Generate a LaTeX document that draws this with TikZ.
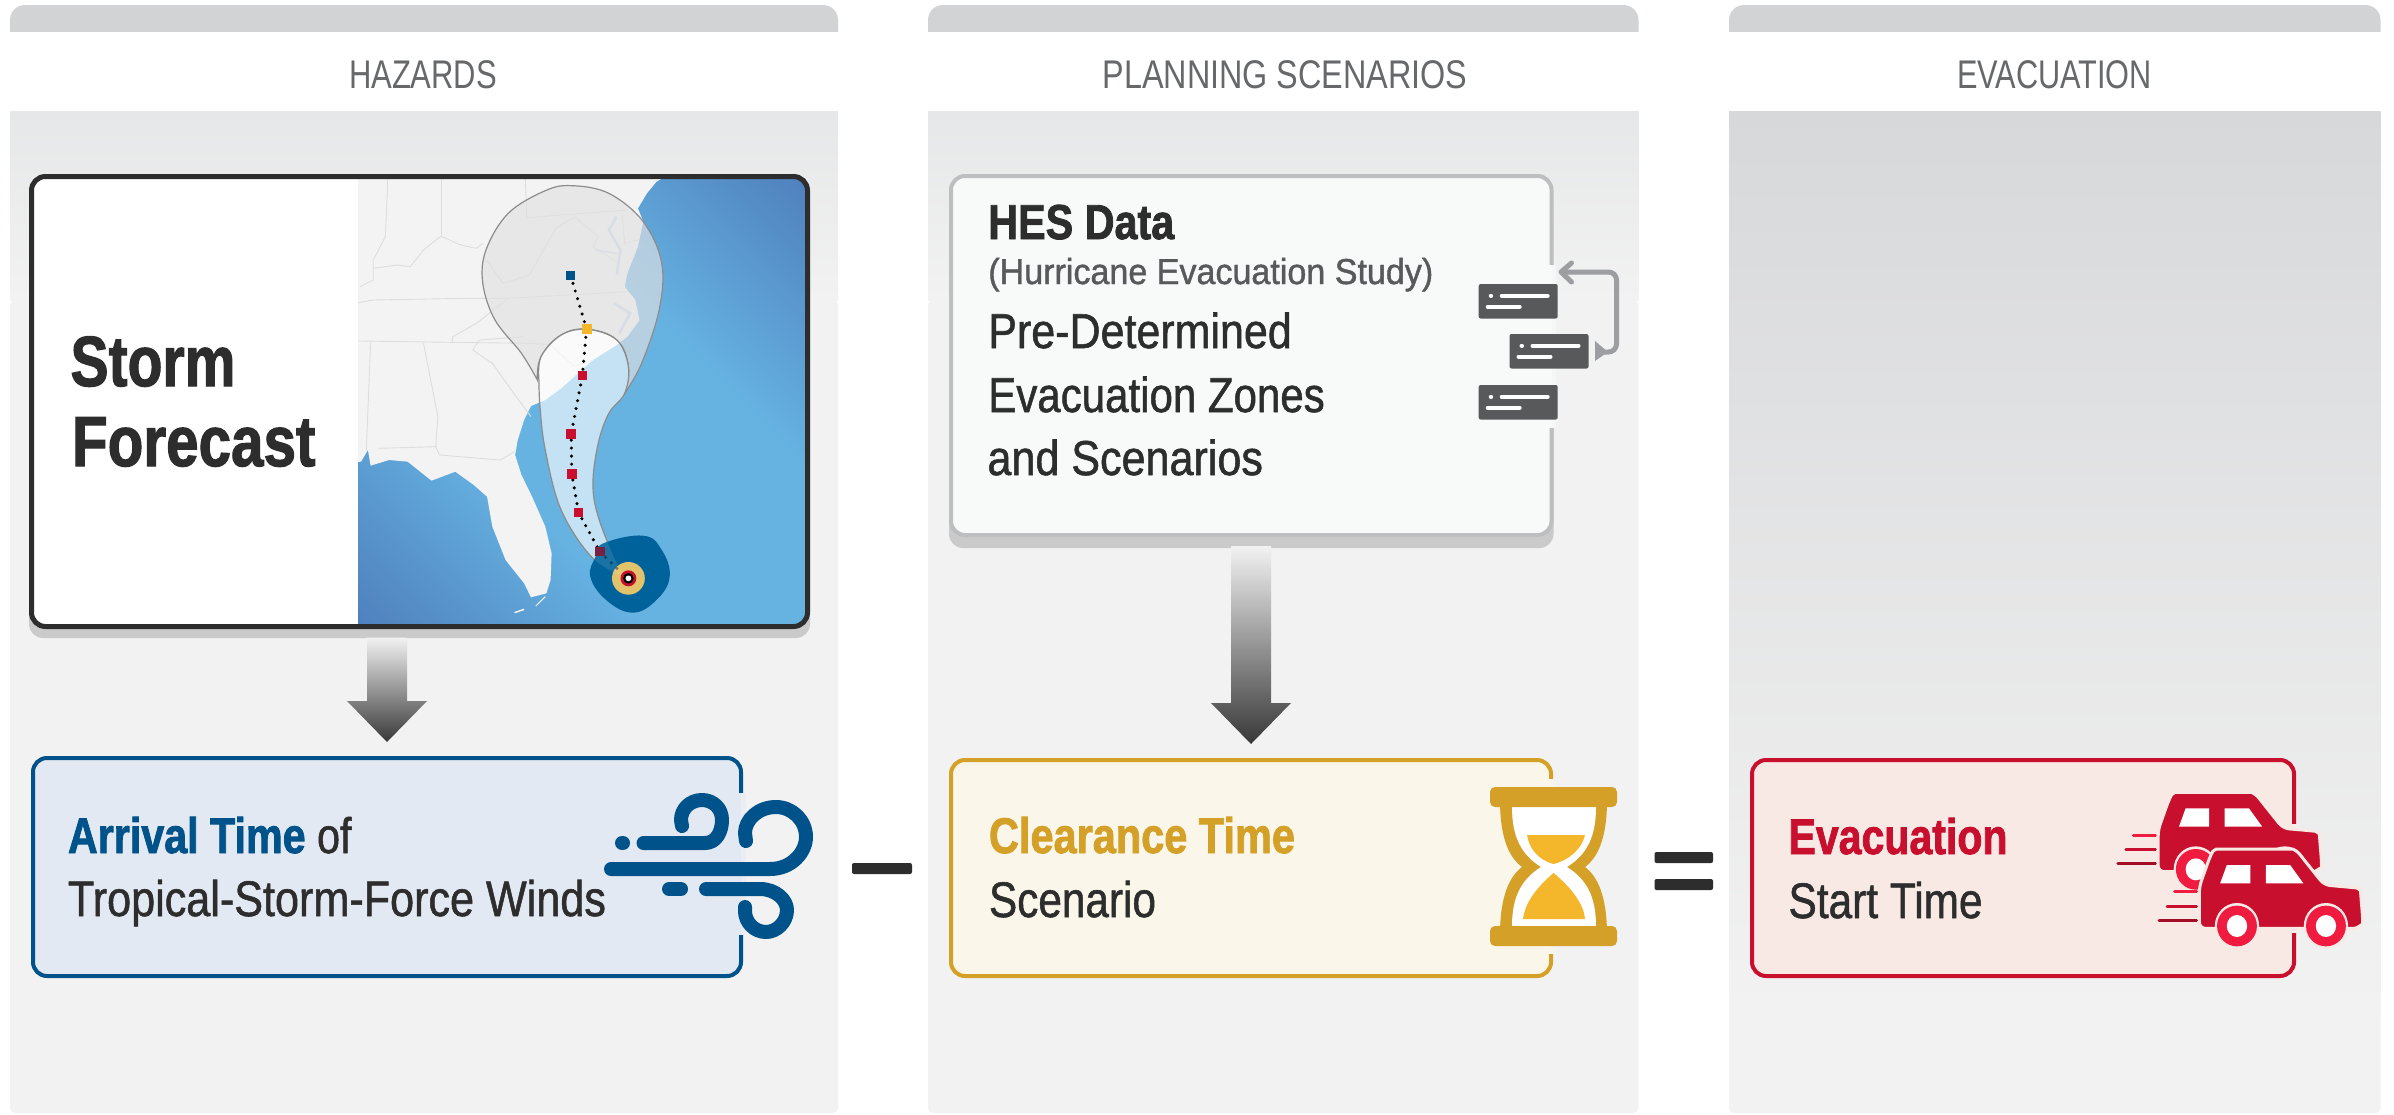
\documentclass[tikz,border=0pt]{standalone}
\usepackage{graphicx}
\usepackage{fontspec}
\setmainfont{Liberation Sans}[UprightFeatures={FakeBold=1.2},BoldFeatures={FakeBold=1.8}]
\newfontfamily\hdrfont{Liberation Sans}
\usetikzlibrary{calc}
\definecolor{ink}{HTML}{2D2D2D}
\definecolor{hdr}{HTML}{66686A}
\definecolor{subink}{HTML}{58595B}
\definecolor{barc}{HTML}{D2D3D5}
\definecolor{pan}{HTML}{F2F2F2}
\definecolor{pantop}{HTML}{E6E7E8}
\definecolor{pandark}{HTML}{D7D8DA}
\definecolor{bluec}{HTML}{00538A}
\definecolor{bluef}{HTML}{E3E9F3}
\definecolor{goldc}{HTML}{D4A027}
\definecolor{goldf}{HTML}{FAF6EA}
\definecolor{sand}{HTML}{F4B62A}
\definecolor{redc}{HTML}{C8102E}
\definecolor{redf}{HTML}{F8E9E5}
\definecolor{wheelc}{HTML}{F01C40}
\definecolor{darkred}{HTML}{A30D26}
\definecolor{hesf}{HTML}{F8F9F9}
\definecolor{hess}{HTML}{BCBEC0}
\definecolor{shad}{HTML}{CACACA}
\definecolor{sea}{HTML}{66B3E2}
\definecolor{seadeep}{HTML}{4F80BD}
\definecolor{land}{HTML}{F3F3F3}
\definecolor{stateline}{HTML}{DDDDDD}
\definecolor{stormb}{HTML}{00629B}
\definecolor{stormy}{HTML}{E2C36B}
\definecolor{conegray}{HTML}{E1E1E3}
\definecolor{coneline}{HTML}{8C8C8C}
\definecolor{bayc}{HTML}{C4D8EA}
\definecolor{arrowg}{HTML}{9C9EA2}
\pgfdeclarehorizontalshading{mapgrad}{100bp}{color(0bp)=(seadeep); color(15bp)=(seadeep); color(38bp)=(sea); color(62bp)=(sea); color(85bp)=(seadeep); color(100bp)=(seadeep)}
\newcommand\fitx[2]{\sbox0{#2}\scalebox{\fpeval{#1/\the\wd0}}[1]{\usebox0}}
\newcommand\fpx[1]{\fontsize{#1}{#1}\selectfont}
\tikzset{
  lab/.style={anchor=base west,inner sep=0pt,outer sep=0pt},
  hd/.style={anchor=base,inner sep=0pt,outer sep=0pt,text=hdr},
  bx/.style={rectangle,rounded corners=14pt,inner sep=0pt,outer sep=0pt,line width=4pt},
  arrowshade/.style={top color=pan,bottom color=black!78},
  wind/.style={draw=bluec,line width=14pt,line cap=round,line join=round},
  card/.style={fill=subink,rounded corners=2pt},
  cardline/.style={draw=white,line width=4pt,line cap=round},
  speed/.style={line width=3pt,line cap=round},
}
% block arrow from the lower edge of #1 to the upper edge of #2
\newcommand\blockarrow[2]{%
  \shade[arrowshade]
    ($(#2.north |- #1.south)+(-20,11)$) -- ($(#2.north |- #1.south)+(20,11)$)
    -- ($(#2.north)+(20,-57)$) -- ($(#2.north)+(40,-57)$)
    -- ($(#2.north)+(0,-16)$)
    -- ($(#2.north)+(-40,-57)$) -- ($(#2.north)+(-20,-57)$) -- cycle;}
\newcommand\cardicon[2]{%
  \begin{scope}[shift={(#1,#2)}]
    \fill[card] (0,0) rectangle (79,34.5);
    \draw[cardline] (12,11.7) -- (12.5,11.7);
    \draw[cardline] (23,11.7) -- (69,11.7);
    \draw[cardline] (9,22.7) -- (41,22.7);
  \end{scope}}
\newcommand\caricon[2]{%
  \begin{scope}[shift={(#1,#2)}]
    \draw[wheelc,speed] (1072,455) -- (1122,455);
    \draw[redc,speed] (1055,498) -- (1122,498);
    \draw[darkred,speed] (1037,541) -- (1122,541);
    \fill[redc,draw=redf,line width=3pt,rounded corners=6pt]
      (1128,440) -- (1128,565) -- (1465,565) .. controls (1485,565) and (1497,550) .. (1497,535)
      -- (1493,470) .. controls (1492,452) and (1485,444) .. (1470,442) -- (1410,435) -- (1362,355)
      .. controls (1350,335) and (1340,327) .. (1325,327) -- (1180,327)
      .. controls (1165,327) and (1158,335) .. (1152,350) -- cycle;
    \fill[white] (1175,430) -- (1190,375) -- (1243,375) -- (1243,430) -- cycle;
    \fill[white] (1278,375) -- (1333,375) -- (1363,430) -- (1278,430) -- cycle;
    \foreach \wx in {1213,1414}{
      \fill[redf] (\wx,558) ellipse [x radius=50,y radius=69];
      \fill[wheelc] (\wx,558) ellipse [x radius=45,y radius=61];
      \fill[white] (\wx,558) ellipse [x radius=23,y radius=33];
    }
  \end{scope}}
\def\outerCone{plot[smooth,tension=.6] coordinates {(1015,690) (985,610) (935,510) (912,400) (918,300) (960,190) (1030,122) (1080,107) (1150,130) (1215,215) (1250,340) (1245,480) (1212,640) (1180,730)}
 -- plot[smooth,tension=.7] coordinates {(1180,730) (1187,650) (1165,570) (1110,538) (1060,555) (1022,620) (1015,690)} -- cycle}
\def\innerCone{plot[smooth,tension=.6] coordinates {(1018,690) (1022,620) (1060,555) (1110,538) (1165,570) (1187,650) (1180,730) (1150,790) (1130,880) (1120,1000) (1130,1100) (1165,1240) (1187,1285)}
 -- plot[smooth,tension=.6] coordinates {(1187,1285) (1120,1225) (1060,1080) (1030,900) (1020,770) (1018,690)} -- cycle}
\def\stormBlob{plot[smooth cycle,tension=.7] coordinates {(1140,1180) (1215,1157) (1250,1200) (1265,1280) (1240,1350) (1195,1388) (1145,1350) (1115,1280) (1125,1220)}}
\begin{document}
\begin{tikzpicture}[x=1pt,y=-1pt]
\useasboundingbox (0,0) rectangle (2394,1114);
\fill[white] (0,0) rectangle (2394,1114);
% header bars
\fill[barc,rounded corners=15pt] (10,5) rectangle (838,50);
\fill[barc,rounded corners=15pt] (928,5) rectangle (1638.5,50);
\fill[barc,rounded corners=15pt] (1729,5) rectangle (2380.5,50);
\fill[white] (0,32) rectangle (2394,60);
% panels
\fill[pan,rounded corners=5pt] (10,300) rectangle (838,1113);
\fill[pan,rounded corners=5pt] (928,300) rectangle (1638.5,1113);
\shade[top color=pantop,bottom color=pan] (10,111) rectangle (838,300);
\shade[top color=pantop,bottom color=pan] (928,111) rectangle (1638.5,300);
\fill[pan,rounded corners=5pt] (1729,1000) rectangle (2380.5,1113);
\shade[top color=pandark,bottom color=pan] (1729,111) rectangle (2380.5,1010);
% headers
\node[hd] (hHaz) at (423,88) {\fitx{148}{\hdrfont\fpx{40}HAZARDS}};
\node[hd] (hPlan) at (1285,88) {\fitx{365}{\hdrfont\fpx{40}PLANNING SCENARIOS}};
\node[hd] (hEvac) at (2054.5,88) {\fitx{195}{\hdrfont\fpx{40}EVACUATION}};
% storm box
\fill[shad,rounded corners=14pt] (29,200) rectangle (810,638);
\node[bx,fill=white,minimum width=776pt,minimum height=450pt] (storm) at (419.5,401.5) {};
\begin{scope}
  \clip[rounded corners=14pt] (storm.north west) rectangle (storm.south east);
  \clip (358,150) rectangle (900,700);
  \begin{scope}[x={(0.5294pt,0pt)},y={(0pt,-0.33333pt)},yshift=-150pt]
    \shade[shading=mapgrad,shading angle=45] (670,70) rectangle (1530,1440);
    \fill[land] (660,70) -- (1268,70) -- (1240,95) -- (1222,130) -- (1205,175) -- (1215,215) -- (1205,290) -- (1185,370) -- (1180,410) -- (1200,450) -- (1208,510) -- (1185,560) -- (1165,585) -- (1150,600) -- (1120,630) -- (1095,665) -- (1060,715) -- (1030,750) -- (1003,768) -- (990,810) -- (978,870) -- (973,915) -- (985,975) -- (1005,1040) -- (1030,1130) -- (1042,1210) -- (1040,1290) -- (1032,1330) -- (1003,1342) -- (990,1300) -- (955,1230) -- (930,1130) -- (920,1040) -- (895,1005) -- (860,965) -- (815,992) -- (770,935) -- (735,930) -- (700,947) -- (695,900) -- (682,935) -- (660,940) -- cycle;
    \draw[land,line width=1.5pt] (972,1388) -- (990,1378);
    \draw[land,line width=1pt] (1012,1368) -- (1030,1340);
    \begin{scope}[stateline,line width=.9pt]
      \draw (733,70) -- (728,260) -- (705,330) -- (705,390) -- (680,410);
      \draw (833,70) -- (833,255);
      \draw (992,70) -- (995,203) -- (1185,180);
      \draw (705,355) -- (750,345) -- (775,350) -- (800,300) -- (833,258) -- (870,285) -- (900,295) -- (912,280);
      \draw (915,320) -- (950,400) -- (1000,375) -- (1030,290) -- (1050,235) -- (1085,200) -- (1130,260) -- (1120,290) -- (1170,340);
      \draw (677,458) -- (705,450) -- (880,445) -- (960,445) -- (1185,425);
      \draw (960,445) -- (900,520) -- (855,560) -- (855,575);
      \draw (677,573) -- (855,577) -- (1000,580);
      \draw (700,578) -- (692,900);
      \draw (800,580) -- (827,800) -- (823,890) -- (830,915) -- (945,930) -- (972,905);
      \draw (715,895) -- (825,890);
      \draw (893,600) -- (930,640) -- (975,740) -- (1003,800);
      \draw (893,600) -- (905,570) -- (990,560);
      \draw (1000,580) -- (1040,585) -- (1085,650) -- (1120,630);
      \draw (1175,195) -- (1180,280) -- (1205,270);
    \end{scope}
    \draw[bayc,line width=2.5pt] (1165,200) -- (1150,240) -- (1172,300) -- (1165,375);
    \draw[bayc,line width=1.2pt] (1125,300) -- (1165,310);
    \draw[bayc,line width=2.5pt] (1160,460) -- (1190,490) -- (1170,550);
    \fill[conegray,fill opacity=.65] \outerCone;
    \draw[coneline,line width=1.2pt] \outerCone;
    \fill[white,fill opacity=.62] \innerCone;
    \draw[coneline,line width=1.2pt] \innerCone;
    \draw[black,line width=3.4pt,line cap=round,dash pattern=on 0pt off 8pt]
      (1078,377) -- (1108,537) -- (1100,677) -- (1079,852) -- (1080,972) -- (1093,1088) -- (1133,1205);
    \fill[stormb] \stormBlob;
    \fill[stormy] (1187,1285) ellipse [x radius=31,y radius=49];
    \begin{scope}
      \clip \stormBlob;
      \fill[white,fill opacity=.1] \innerCone;
    \end{scope}
    \draw[black,opacity=.4,line width=3.4pt,line cap=round,dash pattern=on 0pt off 8pt] (1133,1205) -- (1175,1270);
    \fill[stormb!60!black] (1124,1191) rectangle (1142,1219);
    \fill[redc,opacity=.6] (1124,1191) rectangle (1142,1219);
    \foreach \sx/\sy in {1100/677,1079/852,1080/972,1093/1088}
      \fill[redc] (\sx-9,\sy-14) rectangle (\sx+9,\sy+14);
    \fill[bluec] (1069,363) rectangle (1087,391);
    \fill[sand] (1100,523) rectangle (1118,551);
    \fill[redc] (1187,1285) ellipse [x radius=15,y radius=24];
    \fill[black] (1187,1285) ellipse [x radius=10,y radius=16];
    \fill[white] (1187,1285) ellipse [x radius=5.5,y radius=8.5];
  \end{scope}
\end{scope}
\draw[ink,line width=5pt,rounded corners=14pt] (storm.north west) rectangle (storm.south east);
\node[lab,text=ink] (tStorm) at (70.5,386) {\fitx{165}{\fpx{71}\bfseries Storm}};
\node[lab,text=ink] (tForecast) at (72,466) {\fitx{243.5}{\fpx{71}\bfseries Forecast}};
% HES box
\fill[shad,rounded corners=14pt] (949,300) rectangle (1553.5,548);
\node[bx,draw=hess,fill=hesf,minimum width=600.5pt,minimum height=359pt] (hes) at (1251.25,355.5) {};
\fill[hesf] (1545,265) rectangle (1551.5,428);
\fill[hesf!50!pan] (1551.5,265) rectangle (1556,428);
\node[lab,text=ink] (tHes) at (988.3,239) {\fitx{186}{\fpx{49}\bfseries HES Data}};
\node[lab,text=subink] (tHur) at (988.3,284) {\fitx{445}{\fpx{36}(Hurricane Evacuation Study)}};
\node[lab,text=ink] (tPre) at (988.3,348) {\fitx{303.5}{\fpx{49}Pre-Determined}};
\node[lab,text=ink] (tZones) at (988.3,412) {\fitx{336.5}{\fpx{49}Evacuation Zones}};
\node[lab,text=ink] (tScen) at (987.5,475) {\fitx{275.5}{\fpx{49}and Scenarios}};
\cardicon{1478.7}{284}
\cardicon{1509.5}{334}
\cardicon{1478.7}{385}
\coordinate (loopA) at (1563,272);
\coordinate (loopB) at (1602,352);
\draw[arrowg,line width=5pt,rounded corners=8pt] (loopA) -- (1616.5,272) -- (1616.5,352) -- (loopB);
\draw[arrowg,line width=5pt,line cap=round,line join=round] (1571.5,263) -- (1561,272) -- (1571.5,282);
\fill[arrowg] (1595,341) -- (1595,361) -- (1608,352) -- cycle;
% result boxes
\node[bx,draw=bluec,fill=bluef,minimum width=708pt,minimum height=218pt] (arrival) at (387,867) {};
\fill[bluef] (735,793) rectangle (741,935);
\fill[bluef!50!pan] (741,793) rectangle (746,935);
\node[bx,draw=goldc,fill=goldf,minimum width=600pt,minimum height=216pt] (clear) at (1251,868) {};
\fill[goldf] (1545,779) rectangle (1551,954);
\fill[goldf!50!pan] (1551,779) rectangle (1556,954);
\node[bx,draw=redc,fill=redf,minimum width=542pt,minimum height=216pt] (evac) at (2023,868) {};
\fill[redf] (2288,824) rectangle (2294,933);
\fill[redf!50!pan] (2294,824) rectangle (2299,933);
\blockarrow{storm}{arrival}
\blockarrow{hes}{clear}
% result texts
\node[lab] (tArr) at (68,853) {\fitx{283.5}{\fpx{50}{\bfseries\color{bluec}Arrival Time} {\color{ink}of}}};
\node[lab,text=ink] (tTrop) at (68,916) {\fitx{538}{\fpx{50}Tropical-Storm-Force Winds}};
\node[lab,text=goldc] (tClear) at (989,853) {\fitx{306}{\fpx{50}\bfseries Clearance Time}};
\node[lab,text=ink] (tScn) at (989,917) {\fitx{167}{\fpx{50}Scenario}};
\node[lab,text=redc] (tEva) at (1788.5,854) {\fitx{219}{\fpx{50}\bfseries Evacuation}};
\node[lab,text=ink] (tStart) at (1788.5,918) {\fitx{194}{\fpx{50}Start Time}};
% wind icon
\draw[wind] (622,843) -- (623,843);
\draw[wind] (643.5,843) -- (705,843) .. controls (716,843) and (722,832) .. (722,820) .. controls (722,808) and (713,800) .. (702,800) .. controls (690,800) and (681,809) .. (681,820) -- (682,826);
\draw[wind] (611,869) -- (770,869) .. controls (792,869) and (806,852) .. (806,837) .. controls (806,820) and (792,807) .. (776,807) .. controls (758,807) and (745,820) .. (745,833) -- (746,841);
\draw[wind] (669,889) -- (681,889);
\draw[wind] (706,889) -- (760,889) .. controls (776,889) and (787,900) .. (787,910) .. controls (787,922) and (777,932) .. (766,932) .. controls (754,932) and (745,922) .. (745,911) -- (745,907);
% minus and equals
\fill[ink,rounded corners=2pt] (852,863) rectangle (912,874);
\fill[ink,rounded corners=2pt] (1654.5,852) rectangle (1713,863);
\fill[ink,rounded corners=2pt] (1654.5,879) rectangle (1713,890);
% hourglass
\fill[goldc] (1500,800) .. controls (1500,840) and (1510,858) .. (1522,867) .. controls (1510,876) and (1500,895) .. (1500,935)
  -- (1607,935) .. controls (1607,895) and (1597,876) .. (1585,867) .. controls (1597,858) and (1607,840) .. (1607,800) -- cycle;
\fill[white] (1512,807) .. controls (1512,838) and (1522,855) .. (1541,867) .. controls (1522,879) and (1512,896) .. (1512,926)
  -- (1596,926) .. controls (1596,896) and (1586,879) .. (1567,867) .. controls (1586,855) and (1596,838) .. (1596,807) -- cycle;
\fill[sand] (1527,835) -- (1585,835) .. controls (1582,848) and (1570,860) .. (1553.5,864) .. controls (1538,860) and (1529,848) .. (1527,835) -- cycle;
\fill[sand] (1553.5,873) .. controls (1572,888) and (1584,905) .. (1585,919) -- (1523,919) .. controls (1525,903) and (1536,888) .. (1553.5,873) -- cycle;
\fill[goldc,rounded corners=5pt] (1490,787) rectangle (1617,807);
\fill[goldc,rounded corners=5pt] (1490,926) rectangle (1617,946);
% cars
\begin{scope}[x={(0.44267pt,0pt)},y={(0pt,-0.33333pt)},xshift=1700pt,yshift=-740pt]
  \caricon{-93}{-170}
  \caricon{0}{0}
\end{scope}
\end{tikzpicture}
\end{document}
